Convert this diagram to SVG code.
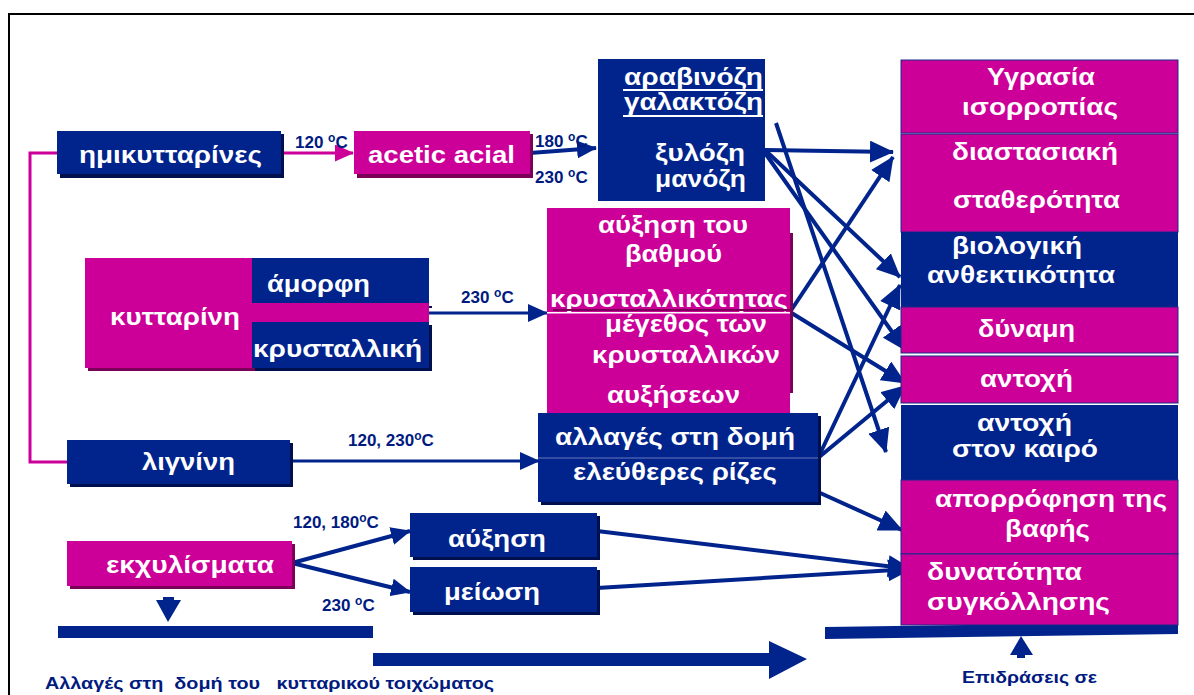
<svg xmlns="http://www.w3.org/2000/svg" width="1194" height="695" viewBox="0 0 1194 695">
<defs>
<style>
.nv{fill:#00238C}
.mg{fill:#CC0099}
.shn{fill:#00104F}
.shm{fill:#7A0058}
.rb{stroke:#1A2A8A;stroke-width:1}
.t{font-family:"Liberation Sans",Arial,sans-serif;font-weight:bold;font-size:24px;fill:#FFFFFF}
.lb{font-family:"Liberation Sans",Arial,sans-serif;font-weight:bold;font-size:17px;fill:#001A80}
.ln{stroke:#00238C;stroke-width:4;fill:none}
.lt{stroke:#00238C;stroke-width:3;fill:none}
</style>
<marker id="ah" viewBox="0 0 24 22" refX="23" refY="11" markerWidth="24" markerHeight="22" markerUnits="userSpaceOnUse" orient="auto"><path d="M0,0 L24,11 L0,22 z" fill="#00238C"/></marker>
<marker id="ahs" viewBox="0 0 20 18" refX="19" refY="9" markerWidth="20" markerHeight="18" markerUnits="userSpaceOnUse" orient="auto"><path d="M0,0 L20,9 L0,18 z" fill="#00238C"/></marker>
<marker id="ahm" viewBox="0 0 19 17" refX="18" refY="8.5" markerWidth="19" markerHeight="17" markerUnits="userSpaceOnUse" orient="auto"><path d="M0,0 L19,8.5 L0,17 z" fill="#CC0099"/></marker>
</defs>
<rect width="1194" height="695" fill="#FFFFFF"/>
<path d="M1194,14 H9 V695" fill="none" stroke="#000000" stroke-width="2"/>

<g id="connectors">
<path d="M57,153 H30 V462 H67" fill="none" stroke="#CC0099" stroke-width="3"/>
<path d="M281,153 L353,153" fill="none" stroke="#CC0099" stroke-width="3" marker-end="url(#ahm)"/>
<path d="M530,153 L596,148" class="ln" stroke-width="5" marker-end="url(#ahs)"/>
<path d="M429,313 L547,313" class="lt" marker-end="url(#ahs)"/>
<path d="M290,461 L539,461" class="lt" marker-end="url(#ahs)"/>
<path d="M292,563 L410,531" class="ln" marker-end="url(#ahs)"/>
<path d="M292,563 L410,592" class="ln" marker-end="url(#ahs)"/>
<path d="M765,150 L893,152" class="ln" marker-end="url(#ah)"/>
<path d="M765,150 L900,277" class="ln" marker-end="url(#ah)"/>
<path d="M765,153 L905,350" class="ln" marker-end="url(#ah)"/>
<path d="M776,123 L886,452" class="ln" marker-end="url(#ah)"/>
<path d="M790,312 L893,157" class="ln" marker-end="url(#ah)"/>
<path d="M790,312 L905,383" class="ln" marker-end="url(#ah)"/>
<path d="M818,458 L900,285" class="ln" marker-end="url(#ah)"/>
<path d="M818,458 L905,386" class="ln" marker-end="url(#ah)"/>
<path d="M818,492 L902,530" class="ln" marker-end="url(#ah)"/>
<path d="M597,531 L911,569" class="ln" marker-end="url(#ah)"/>
<path d="M597,588 L911,569" class="ln" marker-end="url(#ah)"/>
</g>

<g id="hemicellulose">
<rect x="60" y="134" width="224" height="44" class="shn"/>
<rect x="57" y="131" width="224" height="43" class="nv"/>
<text x="79" y="163" class="t" textLength="183" lengthAdjust="spacingAndGlyphs">ημικυτταρίνες</text>
</g>
<text x="295" y="148" class="lb">120 <tspan dy="-6" font-size="12">o</tspan><tspan dy="6">C</tspan></text>

<g id="acetic">
<rect x="357" y="134" width="176" height="44" class="shm"/>
<rect x="354" y="131" width="176" height="43" class="mg"/>
<text x="368" y="163" class="t" textLength="147" lengthAdjust="spacingAndGlyphs">acetic acial</text>
</g>
<text x="535" y="147" class="lb">180 <tspan dy="-6" font-size="12">o</tspan><tspan dy="6">C</tspan></text>
<text x="535" y="183" class="lb">230 <tspan dy="-6" font-size="12">o</tspan><tspan dy="6">C</tspan></text>

<g id="sugars">
<rect x="598" y="59" width="167" height="142" class="nv"/>
<text x="624" y="85" class="t" textLength="139" lengthAdjust="spacingAndGlyphs">αραβινόζη</text>
<rect x="623" y="89" width="140" height="2" fill="#FFFFFF"/>
<text x="624" y="110" class="t" textLength="139" lengthAdjust="spacingAndGlyphs">γαλακτόζη</text>
<rect x="623" y="115" width="140" height="2" fill="#FFFFFF"/>
<text x="655" y="161" class="t" textLength="90" lengthAdjust="spacingAndGlyphs">ξυλόζη</text>
<text x="655" y="187" class="t" textLength="91" lengthAdjust="spacingAndGlyphs">μανόζη</text>
</g>

<g id="crystallinity">
<rect x="790" y="233" width="3" height="160" class="shm"/>
<rect x="547" y="208" width="243" height="205" class="mg"/>
<text x="598" y="233" class="t" textLength="150" lengthAdjust="spacingAndGlyphs">αύξηση του</text>
<text x="625" y="262" class="t" textLength="97" lengthAdjust="spacingAndGlyphs">βαθμού</text>
<text x="550" y="307" class="t" textLength="238" lengthAdjust="spacingAndGlyphs">κρυσταλλικότητας</text>
<rect x="553" y="309" width="237" height="2" class="shm"/>
<rect x="547" y="312" width="243" height="1.5" fill="#FFFFFF"/>
<text x="605" y="332" class="t" textLength="162" lengthAdjust="spacingAndGlyphs">μέγεθος των</text>
<text x="592" y="363" class="t" textLength="188" lengthAdjust="spacingAndGlyphs">κρυσταλλικών</text>
<text x="607" y="403" class="t" textLength="133" lengthAdjust="spacingAndGlyphs">αυξήσεων</text>
</g>

<g id="cellulose">
<rect x="88" y="261" width="168" height="110" class="shm"/>
<rect x="85" y="258" width="168" height="110" class="mg"/>
<text x="110" y="325" class="t" textLength="130" lengthAdjust="spacingAndGlyphs">κυτταρίνη</text>
<rect x="255" y="306" width="177" height="2" class="shn"/>
<rect x="252" y="258" width="177" height="45" class="nv"/>
<text x="267" y="292" class="t" textLength="103" lengthAdjust="spacingAndGlyphs">άμορφη</text>
<rect x="253" y="303" width="176" height="19" class="mg"/>
<rect x="255" y="325" width="177" height="46" class="shn"/>
<rect x="252" y="322" width="177" height="46" class="nv"/>
<text x="253" y="357" class="t" textLength="169" lengthAdjust="spacingAndGlyphs">κρυσταλλική</text>
</g>
<text x="461" y="303" class="lb">230 <tspan dy="-6" font-size="12">o</tspan><tspan dy="6">C</tspan></text>

<g id="lignin">
<rect x="70" y="443" width="223" height="44" class="shn"/>
<rect x="67" y="440" width="223" height="44" class="nv"/>
<text x="142" y="470" class="t" textLength="93" lengthAdjust="spacingAndGlyphs">λιγνίνη</text>
</g>
<text x="348" y="446" class="lb">120, 230<tspan dy="-6" font-size="12">o</tspan><tspan dy="6">C</tspan></text>

<g id="structure">
<rect x="541" y="416" width="280" height="89" class="shn"/>
<rect x="538" y="413" width="280" height="89" class="nv"/>
<rect x="538" y="457.5" width="280" height="1" fill="#6A78B8"/>
<text x="555" y="445" class="t" textLength="240" lengthAdjust="spacingAndGlyphs">αλλαγές στη δομή</text>
<text x="573" y="480" class="t" textLength="204" lengthAdjust="spacingAndGlyphs">ελεύθερες ρίζες</text>
</g>

<g id="extractives">
<rect x="70" y="544" width="225" height="45" class="shm"/>
<rect x="67" y="541" width="225" height="45" class="mg"/>
<text x="106" y="573" class="t" textLength="168" lengthAdjust="spacingAndGlyphs">εκχυλίσματα</text>
</g>
<text x="293" y="528" class="lb">120, 180<tspan dy="-6" font-size="12">o</tspan><tspan dy="6">C</tspan></text>
<text x="322" y="611" class="lb">230 <tspan dy="-6" font-size="12">o</tspan><tspan dy="6">C</tspan></text>

<g id="increase">
<rect x="413" y="516" width="187" height="44" class="shn"/>
<rect x="410" y="513" width="187" height="44" class="nv"/>
<text x="448" y="547" class="t" textLength="98" lengthAdjust="spacingAndGlyphs">αύξηση</text>
</g>
<g id="decrease">
<rect x="413" y="570" width="187" height="45" class="shn"/>
<rect x="410" y="567" width="187" height="45" class="nv"/>
<text x="444" y="600" class="t" textLength="96" lengthAdjust="spacingAndGlyphs">μείωση</text>
</g>

<g id="bottom">
<rect x="163" y="597" width="11" height="4" class="nv"/>
<polygon points="156,600 181,600 168,622" class="nv"/>
<rect x="58" y="626" width="315" height="12" class="nv"/>
<polygon points="373,653 769,653 769,641 807,659 769,679 769,666 373,666" class="nv"/>
<polygon points="825,627 1178,622 1178,634 825,639" class="nv"/>
<polygon points="1010,655 1033,655 1021,636" class="nv"/>
<rect x="1017" y="654" width="8" height="4" class="nv"/>
<text x="962" y="683" class="lb" textLength="135" lengthAdjust="spacingAndGlyphs">Επιδράσεις σε</text>
<text x="45" y="689" class="lb" textLength="449" lengthAdjust="spacingAndGlyphs" xml:space="preserve">Αλλαγές στη  δομή του   κυτταρικού τοιχώματος</text>
</g>

<g id="humidity">
<rect x="901" y="60" width="277" height="73" class="mg rb"/>
<text x="987" y="85" class="t" textLength="108" lengthAdjust="spacingAndGlyphs">Υγρασία</text>
<text x="962" y="115" class="t" textLength="156" lengthAdjust="spacingAndGlyphs">ισορροπίας</text>
</g>
<g id="dimensional">
<rect x="901" y="134" width="277" height="98" class="mg rb"/>
<text x="952" y="160" class="t" textLength="166" lengthAdjust="spacingAndGlyphs">διαστασιακή</text>
<text x="953" y="208" class="t" textLength="167" lengthAdjust="spacingAndGlyphs">σταθερότητα</text>
</g>
<g id="biological">
<rect x="901" y="232" width="277" height="75" class="nv"/>
<text x="952" y="254" class="t" textLength="130" lengthAdjust="spacingAndGlyphs">βιολογική</text>
<text x="927" y="283" class="t" textLength="188" lengthAdjust="spacingAndGlyphs">ανθεκτικότητα</text>
</g>
<g id="strength">
<rect x="901" y="307" width="277" height="46" class="mg rb"/>
<text x="978" y="337" class="t" textLength="97" lengthAdjust="spacingAndGlyphs">δύναμη</text>
</g>
<g id="durability">
<rect x="901" y="356" width="277" height="47" class="mg rb"/>
<text x="980" y="387" class="t" textLength="93" lengthAdjust="spacingAndGlyphs">αντοχή</text>
</g>
<g id="weathering">
<rect x="901" y="405" width="277" height="75" class="nv"/>
<text x="977" y="431" class="t" font-size="22" textLength="95" lengthAdjust="spacingAndGlyphs">αντοχή</text>
<text x="952" y="457" class="t" font-size="22" textLength="146" lengthAdjust="spacingAndGlyphs">στον καιρό</text>
</g>
<g id="dye">
<rect x="901" y="480" width="277" height="74" class="mg rb"/>
<text x="935" y="507" class="t" textLength="232" lengthAdjust="spacingAndGlyphs">απορρόφηση της</text>
<text x="1005" y="537" class="t" textLength="85" lengthAdjust="spacingAndGlyphs">βαφής</text>
</g>
<g id="gluing">
<rect x="901" y="554" width="277" height="71" class="mg rb"/>
<text x="927" y="580" class="t" textLength="155" lengthAdjust="spacingAndGlyphs">δυνατότητα</text>
<text x="927" y="610" class="t" textLength="183" lengthAdjust="spacingAndGlyphs">συγκόλλησης</text>
</g>
</svg>
